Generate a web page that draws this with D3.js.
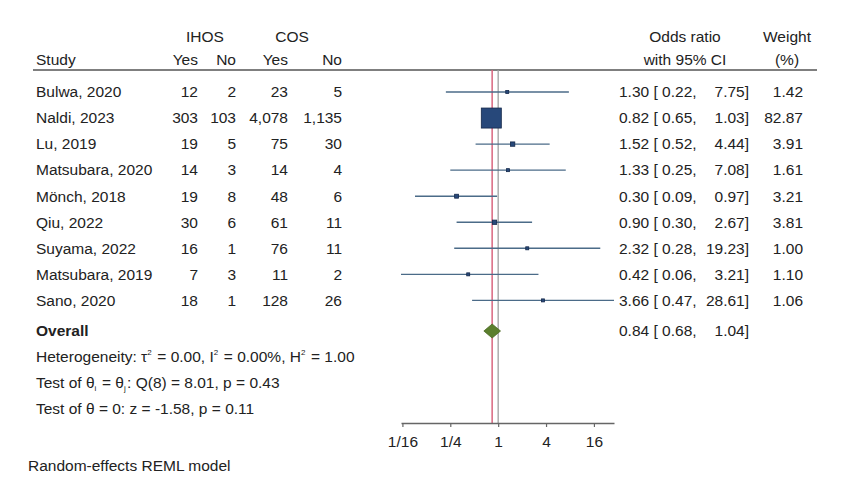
<!DOCTYPE html>
<html><head><meta charset="utf-8">
<script src="https://cdn.jsdelivr.net/npm/d3@7/dist/d3.min.js"></script>
<style>
body{margin:0;background:#fff;}
text{font-family:"Liberation Sans",Arial,sans-serif;fill:#222;}
</style></head>
<body><svg id="c" width="843" height="499"></svg>
<script>
const studies = ["Bulwa, 2020","Naldi, 2023","Lu, 2019","Matsubara, 2020","Mönch, 2018","Qiu, 2022","Suyama, 2022","Matsubara, 2019","Sano, 2020"];
const ihosYes = [12,303,19,14,19,30,16,7,18];
const ihosNo  = [2,103,5,3,8,6,1,3,1];
const cosYes  = [23,4078,75,14,48,61,76,11,128];
const cosNo   = [5,1135,30,4,6,11,11,2,26];
const orVal   = [1.30,0.82,1.52,1.33,0.30,0.90,2.32,0.42,3.66];
const ciLow   = [0.22,0.65,0.52,0.25,0.09,0.30,0.28,0.06,0.47];
const ciHigh  = [7.75,1.03,4.44,7.08,0.97,2.67,19.23,3.21,28.61];
const weights = [1.42,82.87,3.91,1.61,3.21,3.81,1.00,1.10,1.06];
const overall = {or:0.84, lo:0.68, hi:1.04};
const tickVals = [1/16,1/4,1,4,16];
const tickLabels = ["1/16","1/4","1","4","16"];

const svg = d3.select("#c");
const fs = 15.5;
const x = d3.scaleLog().base(2).domain([d3.min(ciLow), d3.max(ciHigh)]).range([401, 614]);
const yRow = d3.scaleLinear().domain([0,1]).range([92, 118.05]);
const fmt2 = d3.format(".2f");
const fmtN = d3.format(",");

function txt(xp, yc, s, anchor, opts={}) {
  const t = svg.append("text").attr("x", xp).attr("y", yc + 5.3).attr("text-anchor", anchor||"start")
    .style("font-size", (opts.size||fs)+"px");
  if (opts.bold) t.style("font-weight","bold");
  t.text(s);
  return t;
}

// header
txt(205, 37, "IHOS", "middle");
txt(292, 37, "COS", "middle");
txt(36, 60, "Study", "start");
txt(198, 60, "Yes", "end");
txt(236, 60, "No", "end");
txt(288, 60, "Yes", "end");
txt(342, 60, "No", "end");
txt(685, 37, "Odds ratio", "middle");
txt(685, 60, "with 95% CI", "middle");
txt(787, 37, "Weight", "middle");
txt(787, 60, "(%)", "middle");
svg.append("line").attr("x1",33).attr("x2",817).attr("y1",70).attr("y2",70)
  .attr("stroke","#555").attr("stroke-width",1.3);

// reference lines
svg.append("line").attr("x1",x(1)).attr("x2",x(1)).attr("y1",70).attr("y2",423)
  .attr("stroke","#a0a0a0").attr("stroke-width",1.3);
svg.append("line").attr("x1",x(overall.or)).attr("x2",x(overall.or)).attr("y1",70).attr("y2",423)
  .attr("stroke","#d9667f").attr("stroke-width",1.5);

// rows
studies.forEach((s,i)=>{
  const yc = yRow(i);
  txt(36, yc, s, "start");
  txt(198, yc, fmtN(ihosYes[i]), "end");
  txt(236, yc, fmtN(ihosNo[i]), "end");
  txt(288, yc, fmtN(cosYes[i]), "end");
  txt(342, yc, fmtN(cosNo[i]), "end");
  svg.append("line").attr("x1",x(ciLow[i])).attr("x2",x(ciHigh[i])).attr("y1",yc).attr("y2",yc)
    .attr("stroke","#4b6b88").attr("stroke-width",1.4);
  const side = Math.max(3, 2.2*Math.sqrt(weights[i]));
  svg.append("rect").attr("x",x(orVal[i])-side/2).attr("y",yc-side/2).attr("width",side).attr("height",side)
    .attr("fill","#27487a").attr("stroke","#15294a").attr("stroke-width",0.8);
  txt(619, yc, fmt2(orVal[i])+" [ "+fmt2(ciLow[i])+",", "start");
  txt(749, yc, fmt2(ciHigh[i])+"]", "end");
  txt(803, yc, fmt2(weights[i]), "end");
});

// overall
const yo = 331;
txt(36, yo, "Overall", "start", {bold:true});
svg.append("path").attr("d", d3.line()([[x(overall.lo)-1,yo],[x(overall.or),yo-7],[x(overall.hi)+1,yo],[x(overall.or),yo+7]])+"Z")
  .attr("fill","#5b7f2d").attr("stroke","#4a6a22").attr("stroke-width",0.8);
txt(619, yo, fmt2(overall.or)+" [ "+fmt2(overall.lo)+",", "start");
txt(749, yo, fmt2(overall.hi)+"]", "end");

// stats lines
function statLine(yc, parts){
  const t = svg.append("text").attr("x",36).attr("y",yc+5.3).style("font-size",fs+"px");
  parts.forEach(p=>{
    if (typeof p === "string") t.append("tspan").text(p);
    else {
      t.append("tspan").attr("dy", p.dy).style("font-size","8px").text(p.t);
      t.append("tspan").attr("dy", -p.dy).text("\u200A");
    }
  });
}
statLine(357, ["Heterogeneity: τ",{t:"2",dy:-7}," = 0.00, I",{t:"2",dy:-7}," = 0.00%, H",{t:"2",dy:-7}," = 1.00"]);
statLine(383, ["Test of θ",{t:"i",dy:3}," = θ",{t:"j",dy:3},": Q(8) = 8.01, p = 0.43"]);
statLine(409, ["Test of θ = 0: z = -1.58, p = 0.11"]);

// axis
const axis = d3.axisBottom(x).tickValues(tickVals).tickFormat((d,i)=>tickLabels[i]).tickSize(4).tickSizeOuter(0);
const g = svg.append("g").attr("transform","translate(0,423)").call(axis);
g.select(".domain").attr("stroke","#666").attr("stroke-width",1.3);
g.selectAll(".tick line").attr("stroke","#666").attr("stroke-width",1.2);
g.selectAll(".tick text").attr("dy",0).attr("y",24).style("font-size",fs+"px")
  .style("font-family","'Liberation Sans',Arial,sans-serif").attr("fill","#222");

txt(28, 466, "Random-effects REML model", "start", {size:15.5});
</script></body></html>
